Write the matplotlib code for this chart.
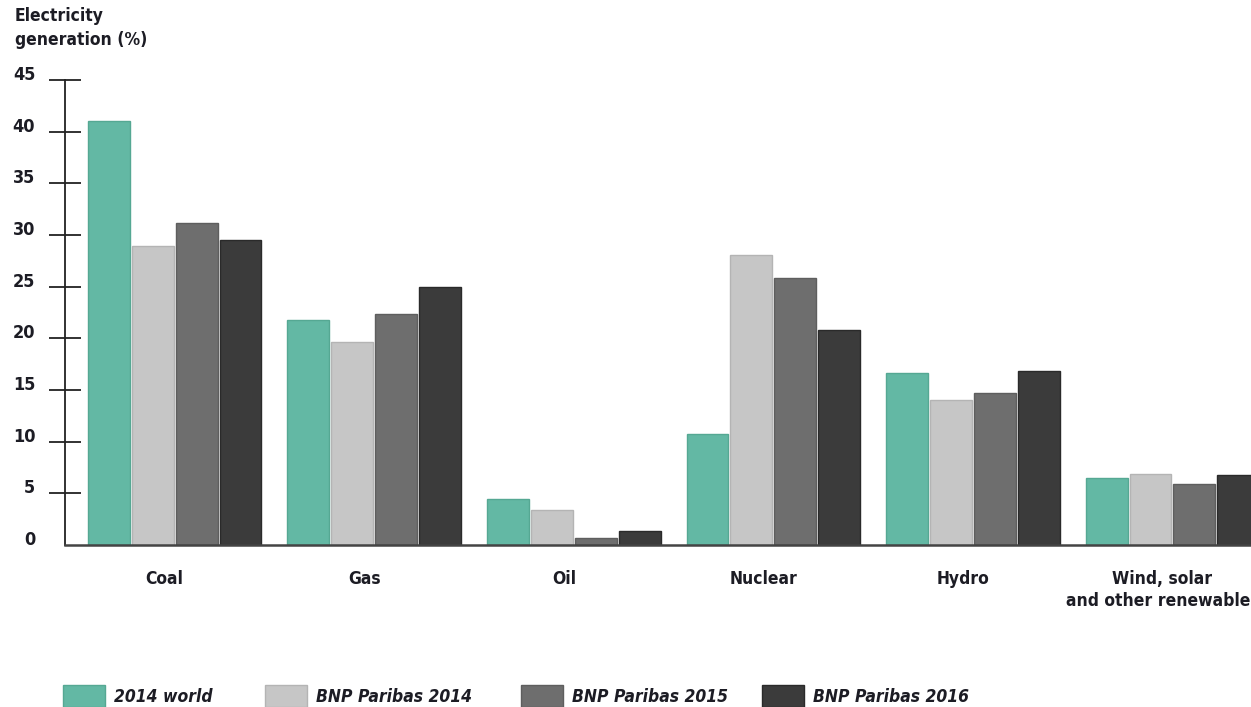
import numpy as np
import matplotlib.pyplot as plt
from matplotlib.patches import Rectangle
from matplotlib.transforms import ScaledTranslation

categories = ['Coal', 'Gas', 'Oil', 'Nuclear', 'Hydro', 'Wind, solar\nand other renewables']
series = ['2014 world', 'BNP Paribas 2014', 'BNP Paribas 2015', 'BNP Paribas 2016']
world_2014 = [41.0, 21.8, 4.5, 10.7, 16.6, 6.5]
bnp_2014 = [28.9, 19.6, 3.4, 28.1, 14.0, 6.9]
bnp_2015 = [31.2, 22.4, 0.7, 25.8, 14.7, 5.9]
bnp_2016 = [29.5, 25.0, 1.4, 20.8, 16.8, 6.8]
yticks = [0, 5, 10, 15, 20, 25, 30, 35, 40, 45]

colors = ['#63b8a4', '#c6c6c6', '#6e6e6e', '#3b3b3b']
edges = ['#55a893', '#b4b4b4', '#5e5e5e', '#2a2a2a']
txt = '#1c1c24'

plt.rcParams['font.family'] = ['DejaVu Sans']
plt.rcParams['font.stretch'] = 'condensed'

fig = plt.figure(figsize=(12.51, 7.07), dpi=100)
ax = fig.add_axes([0.052, 0.229, 0.965, 0.658])

values = [world_2014, bnp_2014, bnp_2015, bnp_2016]
x = np.arange(len(categories))
step = 0.22
width = 0.21
for k, vals in enumerate(values):
    ax.bar(x + (k - 1.5) * step, vals, width, color=colors[k], edgecolor=edges[k],
           linewidth=1, label=series[k], zorder=2)

ax.set_xlim(-0.549, 5.5)
ax.set_ylim(0, 45)
ax.set_yticks(yticks)
ax.set_xticks(x - 0.05)
ax.set_xticklabels(categories, fontsize=12.5, fontweight='bold', color=txt, linespacing=1.3,
                   stretch='condensed')
ax.tick_params(axis='x', length=0, pad=18)
ax.tick_params(axis='y', direction='inout', length=23, width=1.3, color='#222222',
               pad=10, labelsize=13, labelcolor=txt)
for lbl in ax.get_yticklabels():
    lbl.set_fontweight('bold')
    lbl.set_fontstretch('condensed')
    lbl.set_transform(lbl.get_transform() + ScaledTranslation(0, 0.07, fig.dpi_scale_trans))
# no tick mark at zero, the axis line starts there
ax.yaxis.get_major_ticks()[0].tick1line.set_visible(False)

for s in ['top', 'right']:
    ax.spines[s].set_visible(False)
ax.spines['left'].set_linewidth(1.3)
ax.spines['left'].set_color('#222222')
ax.spines['bottom'].set_linewidth(1.8)
ax.spines['bottom'].set_color('#444444')

fig.text(15 / 1251, 1 - 7 / 707, 'Electricity\ngeneration (%)', fontsize=12.5,
         fontweight='bold', stretch='condensed', color=txt, va='top', ha='left',
         linespacing=1.45)

# legend drawn by hand along the bottom edge
leg_x = [63, 265, 521, 762]
for k, name in enumerate(series):
    fig.patches.append(Rectangle((leg_x[k] / 1251, 0), 42 / 1251, 22 / 707,
                                 transform=fig.transFigure, facecolor=colors[k],
                                 edgecolor=edges[k], linewidth=1))
    fig.text((leg_x[k] + 51) / 1251, 10 / 707, name, fontsize=12.5, fontweight='bold',
             style='italic', stretch='condensed', color=txt, va='center', ha='left')

fig.savefig('out.png', dpi=100)
